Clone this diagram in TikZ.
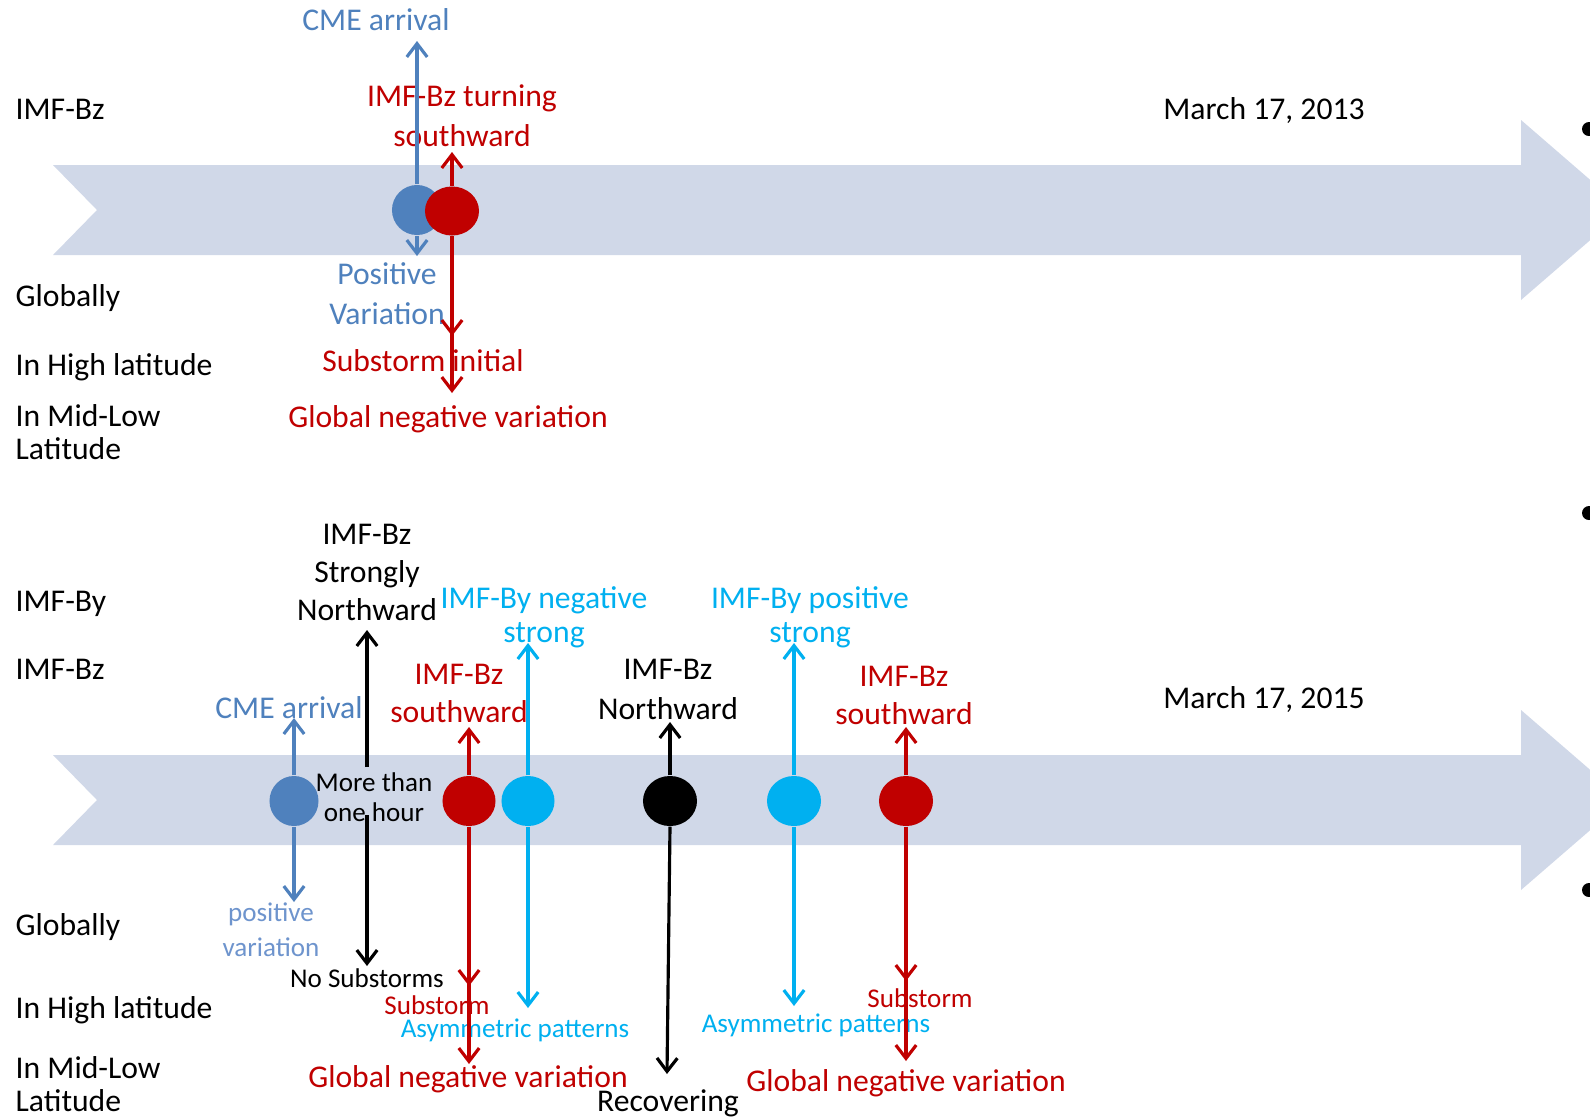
\documentclass[tikz,border=0pt]{standalone}
\usepackage{fontspec}
\setmainfont{Carlito}
\usetikzlibrary{arrows.meta,shapes.geometric}
\definecolor{bandc}{RGB}{208,216,232}
\definecolor{cmeb}{RGB}{79,129,189}
\definecolor{pvb}{RGB}{110,148,205}
\definecolor{redc}{RGB}{192,0,0}
\definecolor{cyanc}{RGB}{0,176,240}
\tikzset{
  lab/.style={inner sep=0pt, anchor=base, align=center, yshift=-0.02cm, font=\fontsize{9}{11.1}\selectfont},
  slab/.style={inner sep=0pt, anchor=base, align=center, yshift=-0.02cm, font=\fontsize{7.7}{9.6}\selectfont},
  leftlab/.style={inner sep=0pt, anchor=base west, align=left, yshift=-0.015cm, font=\fontsize{9}{9.4}\selectfont},
  dotnode/.style={ellipse, inner sep=0pt, minimum width=0.53cm, minimum height=0.5cm},
  arr/.style={line width=0.9pt, -{Straight Barb[length=3.8pt,width=5.8pt]}},
  bandshape/.style={fill=bandc},
  bulletdot/.style={circle, fill=black, inner sep=0pt, minimum size=0.14cm},
}
\begin{document}
\begin{tikzpicture}[x=0.01cm,y=-0.01cm]
\useasboundingbox (0,0) rectangle (1590,1117);
\clip (0,0) rectangle (1590,1117);
\fill[white] (0,0) rectangle (1590,1117);

% timeline bands
\path[bandshape] (53,165) -- (1521,165) -- (1521,120) -- (1625,210) -- (1521,300) -- (1521,255) -- (53,255) -- (97,210) -- cycle;
\path[bandshape] (53,755) -- (1521,755) -- (1521,710) -- (1625,800) -- (1521,890) -- (1521,845) -- (53,845) -- (97,800) -- cycle;

% bullets at right edge
\node[bulletdot] (bul1) at (1589,129) {};
\node[bulletdot] (bul2) at (1589,513) {};
\node[bulletdot] (bul3) at (1589,890) {};

% ---------- top section labels (multi-line nodes: position = last baseline) ----------
\node[leftlab] (tl1) at (15,118) {IMF-Bz};
\node[leftlab] (tl2) at (15,305) {Globally};
\node[leftlab] (tl3) at (15,374) {In High latitude};
\node[leftlab] (tl4) at (15,458) {In Mid-Low\\Latitude};
\node[lab] (tdate) at (1264,117) {March 17, 2013};

\node[lab, text=cmeb] (tcme) at (376,28) {CME arrival};
\node[lab, text=redc] (tturn) at (462,144) {IMF-Bz turning\\southward};
\node[lab, text=cmeb] (tpos) at (387,322) {Positive\\Variation};
\node[lab, text=redc] (tsub) at (423,369) {Substorm initial};
\node[lab, text=redc] (tglob) at (448,425) {Global negative variation};

% ---------- bottom section labels ----------
\node[leftlab] (bl1) at (15,610) {IMF-By};
\node[leftlab] (bl2) at (15,678) {IMF-Bz};
\node[leftlab] (bl3) at (15,934) {Globally};
\node[leftlab] (bl4) at (15,1017) {In High latitude};
\node[leftlab] (bl5) at (15,1110) {In Mid-Low\\Latitude};
\node[lab] (bdate) at (1264,706) {March 17, 2015};

\node[lab, text=cmeb] (bcme) at (289,716) {CME arrival};
\node[slab, text=pvb, font=\fontsize{7.7}{9.7}\selectfont] (bpos) at (271,954) {positive\\variation};
\node[lab, font=\fontsize{9}{10.8}\selectfont] (bstrong) at (367,618) {IMF-Bz\\Strongly\\Northward};
\node[slab, font=\fontsize{7.7}{8.5}\selectfont] (bhour) at (374,819) {More than\\one hour};
\node[slab] (bnosub) at (367,985) {No Substorms};
\node[lab, text=redc, font=\fontsize{9}{10.8}\selectfont] (bsouth1) at (459,720) {IMF-Bz\\southward};
\node[slab, text=redc] (bsub1) at (437,1012) {Substorm};
\node[slab, text=cyanc] (basym1) at (515,1035) {Asymmetric patterns};
\node[lab, text=redc] (bglob1) at (468,1085) {Global negative variation};
\node[lab, text=cyanc, font=\fontsize{9}{9.4}\selectfont] (byneg) at (544,640) {IMF-By negative\\strong};
\node[lab, font=\fontsize{9}{11.1}\selectfont] (bnorth) at (668,717) {IMF-Bz\\Northward};
\node[lab] (brec) at (668,1109) {Recovering};
\node[lab, text=cyanc, font=\fontsize{9}{9.4}\selectfont] (bypos) at (810,640) {IMF-By positive\\strong};
\node[slab, text=cyanc] (basym2) at (816,1030) {Asymmetric patterns};
\node[lab, text=redc, font=\fontsize{9}{10.8}\selectfont] (bsouth2) at (904,722) {IMF-Bz\\southward};
\node[slab, text=redc] (bsub2) at (920,1005) {Substorm};
\node[lab, text=redc] (bglob2) at (906,1089) {Global negative variation};

% ---------- event dots ----------
\node[dotnode, fill=cmeb, minimum width=0.5cm] (b1) at (417,210) {};
\node[dotnode, fill=redc, minimum width=0.54cm, minimum height=0.49cm] (r1) at (452,211) {};

\node[dotnode, fill=cmeb, minimum width=0.49cm] (b2) at (294,801) {};
\node[dotnode, fill=redc] (r2) at (469,801) {};
\node[dotnode, fill=cyanc] (c2) at (528,801) {};
\node[dotnode, fill=black, minimum width=0.54cm] (k2) at (670,801) {};
\node[dotnode, fill=cyanc, minimum width=0.54cm] (c3) at (794,801) {};
\node[dotnode, fill=redc, minimum width=0.54cm] (r3) at (906,801) {};

% ---------- arrow end points ----------
\coordinate (b1u) at (417,41);
\coordinate (b1d) at (417,256);
\coordinate (r1u) at (452,152);
\coordinate (r1m) at (452,336);
\coordinate (r1d) at (452,393);

\coordinate (b2u) at (294,718);
\coordinate (b2d) at (294,902);
\coordinate (k1a) at (367,767);
\coordinate (k1u) at (367,630);
\coordinate (k1b) at (367,815);
\coordinate (k1d) at (367,966);
\coordinate (r2u) at (469,727);
\coordinate (r2m) at (469,986);
\coordinate (r2d) at (469,1064);
\coordinate (c2u) at (528,643);
\coordinate (c2d) at (528,1008);
\coordinate (k2u) at (670,722);
\coordinate (k2d) at (667,1074);
\coordinate (c3u) at (794,643);
\coordinate (c3d) at (794,1006);
\coordinate (r3u) at (906,727);
\coordinate (r3m) at (906,981);
\coordinate (r3d) at (906,1061);

% ---------- arrows ----------
\draw[arr, cmeb] (b1.north) -- (b1u);
\draw[arr, cmeb] (b1.south) -- (b1d);
\draw[arr, redc] (r1.north) -- (r1u);
\draw[arr, redc] (r1.south) -- (r1m);
\draw[arr, redc] (r1.south) -- (r1d);

\draw[arr, cmeb] (b2.north) -- (b2u);
\draw[arr, cmeb] (b2.south) -- (b2d);
\draw[arr, black] (k1a) -- (k1u);
\draw[arr, black] (k1b) -- (k1d);
\draw[arr, redc] (r2.north) -- (r2u);
\draw[arr, redc] (r2.south) -- (r2m);
\draw[arr, redc] (r2.south) -- (r2d);
\draw[arr, cyanc] (c2.north) -- (c2u);
\draw[arr, cyanc] (c2.south) -- (c2d);
\draw[arr, black] (k2.north) -- (k2u);
\draw[arr, black] (k2.south) -- (k2d);
\draw[arr, cyanc] (c3.north) -- (c3u);
\draw[arr, cyanc] (c3.south) -- (c3d);
\draw[arr, redc] (r3.north) -- (r3u);
\draw[arr, redc] (r3.south) -- (r3m);
\draw[arr, redc] (r3.south) -- (r3d);
\end{tikzpicture}
\end{document}
